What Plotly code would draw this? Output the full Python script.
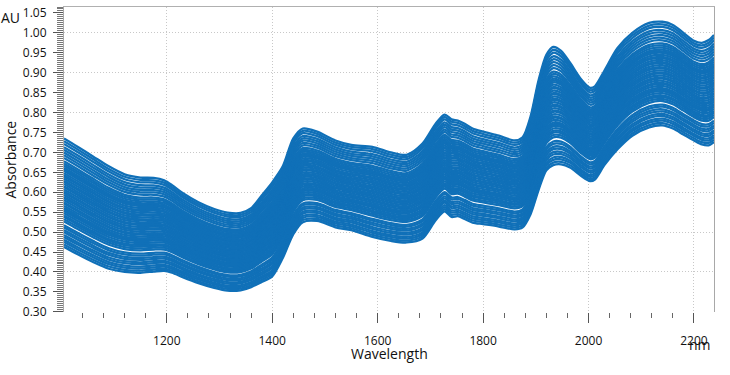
import plotly.graph_objects as go

# Wavelengths (nm) at which the spectral envelopes were read
wavelength = [1005, 1030, 1060, 1090, 1120, 1150, 1175, 1195, 1210, 1230, 1260, 1290,
              1315, 1340, 1360, 1380, 1400, 1420, 1440, 1458, 1485, 1520, 1550, 1590,
              1625, 1655, 1685, 1710, 1727, 1740, 1752, 1765, 1780, 1800, 1830, 1860,
              1875, 1890, 1905, 1920, 1933, 1948, 1965, 1985, 2003, 2012, 2030, 2055,
              2083, 2115, 2140, 2160, 2180, 2200, 2215, 2228, 2238]

# Highest spectrum (AU)
upper_spectrum = [0.735, 0.715, 0.690, 0.665, 0.645, 0.637, 0.636, 0.630, 0.618, 0.598, 0.575, 0.558,
                  0.549, 0.548, 0.560, 0.592, 0.625, 0.665, 0.735, 0.760, 0.752, 0.730, 0.719, 0.714,
                  0.700, 0.694, 0.722, 0.772, 0.795, 0.783, 0.780, 0.772, 0.760, 0.752, 0.742, 0.730,
                  0.738, 0.790, 0.880, 0.945, 0.965, 0.955, 0.925, 0.885, 0.862, 0.866, 0.905, 0.962,
                  1.000, 1.025, 1.028, 1.020, 1.000, 0.980, 0.975, 0.982, 0.995]

# Lowest spectrum (AU)
lower_spectrum = [0.463, 0.445, 0.425, 0.408, 0.400, 0.398, 0.401, 0.403, 0.398, 0.387, 0.372, 0.360,
                  0.353, 0.354, 0.362, 0.375, 0.389, 0.435, 0.495, 0.525, 0.528, 0.512, 0.505, 0.488,
                  0.478, 0.474, 0.484, 0.530, 0.552, 0.538, 0.540, 0.533, 0.524, 0.520, 0.514, 0.507,
                  0.512, 0.545, 0.605, 0.655, 0.668, 0.670, 0.662, 0.642, 0.628, 0.632, 0.668, 0.708,
                  0.742, 0.763, 0.768, 0.760, 0.745, 0.730, 0.720, 0.718, 0.726]

# Relative position of each sample spectrum inside the band (0 = lowest, 1 = highest)
sample_levels = [0.0, 0.022, 0.045, 0.065, 0.09, 0.11, 0.135, 0.155, 0.18, 0.20,
                 0.235, 0.255, 0.275, 0.29, 0.31, 0.33, 0.345, 0.36, 0.38, 0.40, 0.41, 0.43,
                 0.45, 0.46, 0.48, 0.50, 0.51, 0.53, 0.55, 0.56, 0.58, 0.60, 0.61,
                 0.63, 0.65, 0.66, 0.68, 0.70, 0.715, 0.73, 0.75, 0.77, 0.79,
                 0.82, 0.845, 0.87, 0.895, 0.92, 0.95, 0.975, 1.0]

LINE = "#1070B8"
FONT = "Open Sans"
GRID = "#c8c8c8"

fig = go.Figure()
for lv in sample_levels:
    ys = [lo + lv * (hi - lo) for lo, hi in zip(lower_spectrum, upper_spectrum)]
    fig.add_trace(go.Scatter(x=wavelength, y=ys, mode="lines",
                             line=dict(color=LINE, width=2.3, shape="spline", smoothing=0.8),
                             hoverinfo="skip", showlegend=False))

# helper traces so the overlay axes exist
fig.add_trace(go.Scatter(x=[], y=[], yaxis="y2", showlegend=False))
fig.add_trace(go.Scatter(x=[], y=[], xaxis="x2", showlegend=False))

xr = [1005, 2238]
yr = [0.2995, 1.065]

fig.update_layout(
    width=730, height=375,
    margin=dict(l=64, r=16, t=7, b=63, autoexpand=False),
    paper_bgcolor="white", plot_bgcolor="white",
    font=dict(family=FONT, size=12, color="#111"),
    xaxis=dict(range=xr, tickmode="linear", tick0=1000, dtick=200,
               showgrid=True, gridcolor=GRID, griddash="1px,2px", gridwidth=1,
               ticks="outside", ticklen=10, tickcolor="#555", tickwidth=1,
               ticklabelstandoff=8, automargin=False,
               minor=dict(dtick=40, tick0=1000, ticks="outside", ticklen=5,
                          tickcolor="#666", showgrid=False),
               showline=False, zeroline=False,
               tickfont=dict(family=FONT, size=12, color="#111")),
    xaxis2=dict(range=xr, overlaying="x", side="top", anchor="y", automargin=False,
                showline=True, linecolor="#b0b0b0", linewidth=1,
                showgrid=False, ticks="", showticklabels=False, zeroline=False),
    yaxis=dict(range=yr, tickmode="linear", tick0=0.30, dtick=0.05, tickformat=".2f",
               showgrid=False, ticks="outside", ticklen=10, tickcolor="#555", tickwidth=1,
               ticklabelstandoff=4, automargin=False,
               minor=dict(dtick=0.005, tick0=0.3, ticks="outside", ticklen=6,
                          tickcolor="#777", showgrid=False),
               showline=True, mirror=True, linecolor="#a8a8a8", linewidth=1,
               zeroline=False,
               tickfont=dict(family=FONT, size=12, color="#111")),
    yaxis2=dict(range=yr, overlaying="y", anchor="x", side="left", automargin=False,
                tickmode="linear", dtick=0.1, tick0=0.3, showgrid=True, gridcolor=GRID,
                griddash="1px,2px", gridwidth=1, ticks="", showticklabels=False,
                showline=False, zeroline=False),
    annotations=[
        dict(text="Absorbance", xref="paper", yref="paper", x=0, y=0.5,
             xshift=-54, textangle=-90, showarrow=False,
             xanchor="center", yanchor="middle",
             font=dict(family=FONT, size=14, color="#111")),
        dict(text="AU", xref="paper", yref="paper", x=0, y=0.966,
             xshift=-54, showarrow=False, xanchor="center", yanchor="middle",
             font=dict(family=FONT, size=14, color="#111")),
        dict(text="Wavelength", xref="paper", yref="paper", x=0.5, y=-0.135,
             showarrow=False, xanchor="center", yanchor="middle",
             font=dict(family=FONT, size=14, color="#111")),
        dict(text="nm", xref="paper", yref="paper", x=1, y=-0.107,
             xshift=-1, showarrow=False, xanchor="right", yanchor="middle",
             font=dict(family=FONT, size=14, color="#111")),
    ],
)

fig.write_html("out.html", config={"displayModeBar": False},
               post_script="document.body.style.margin='0';document.body.style.overflow='hidden';")
